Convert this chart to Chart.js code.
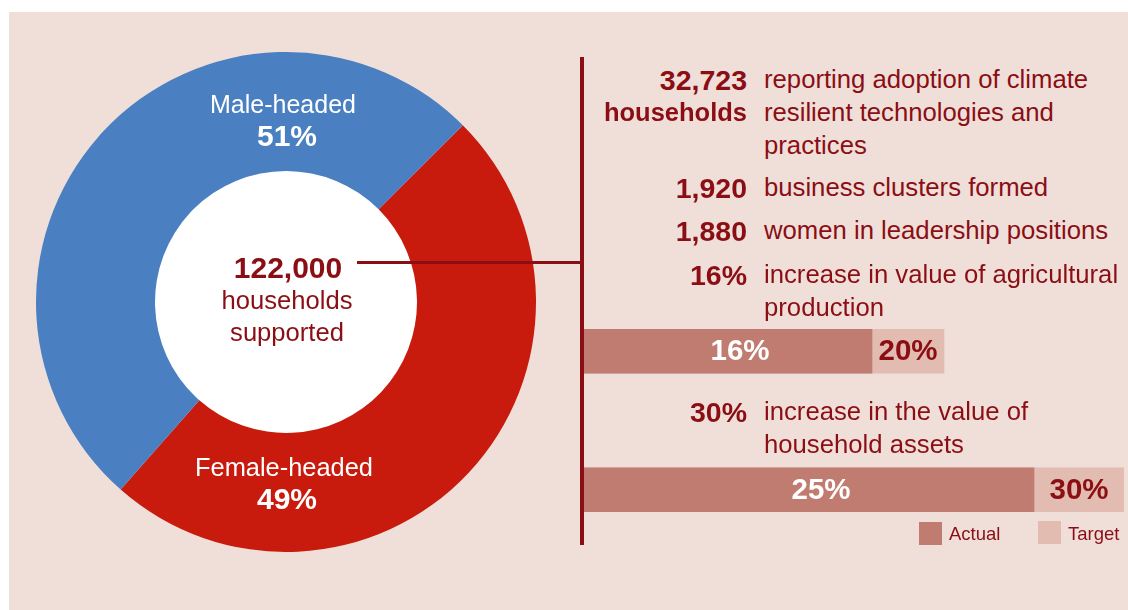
<!DOCTYPE html>
<html>
<head>
<meta charset="utf-8">
<script src="https://cdn.jsdelivr.net/npm/chart.js@4.4.1/dist/chart.umd.min.js"></script>
<style>
  html, body { margin: 0; padding: 0; background: #ffffff; }
  body { width: 1128px; height: 610px; position: relative; overflow: hidden;
         font-family: "Liberation Sans", Arial, Helvetica, sans-serif; }
  #panel { position: absolute; left: 9px; top: 12px; width: 1119px; height: 598px; background: #f0dfd9; }
  .abs { position: absolute; white-space: nowrap; line-height: 1; }
  canvas { position: absolute; }
</style>
</head>
<body>
<div id="panel"></div>
<canvas id="donut" width="500" height="500" style="left:36px;top:52px;width:500px;height:500px"></canvas>
<canvas id="bars" width="540" height="277" style="left:584px;top:282px;width:540px;height:277px"></canvas>
<div id="overlay"></div>
<script>
// ---------- data ----------
const segLabels = ['Female-headed', 'Male-headed'];
const segValues = [49, 51];
const centerValue = '122,000';
const centerLines = ['households', 'supported'];

const barCats = ['Agricultural production', 'Household assets'];
const actualValues = [16, 25];
const targetValues = [20, 30];
const seriesNames = ['Actual', 'Target'];

const statNumbers = [['32,723', 'households'], ['1,920'], ['1,880'], ['16%'], ['30%']];
const statTexts = [
  ['reporting adoption of climate', 'resilient technologies and', 'practices'],
  ['business clusters formed'],
  ['women in leadership positions'],
  ['increase in value of agricultural', 'production'],
  ['increase in the value of', 'household assets']
];

// ---------- styling ----------
const DARK = '#8a0e14';
const RED = '#c81b0e';
const BLUE = '#4a80c1';
const ACT = '#c07c70';
const TGT = '#e2bbb1';
const FONT = '"Liberation Sans", Arial, Helvetica, sans-serif';

const overlay = document.getElementById('overlay');
function addText(txt, x, baseline, size, opts) {
  opts = opts || {};
  const d = document.createElement('div');
  d.className = 'abs';
  d.textContent = txt;
  d.style.fontSize = size + 'px';
  d.style.fontWeight = opts.bold ? 'bold' : 'normal';
  d.style.color = opts.color || DARK;
  d.style.top = (baseline - 0.8465 * size) + 'px';
  if (opts.align === 'right') {
    d.style.right = (1128 - x) + 'px';
    d.style.textAlign = 'right';
  } else if (opts.align === 'center') {
    d.style.left = (x - 300) + 'px';
    d.style.width = '600px';
    d.style.textAlign = 'center';
  } else {
    d.style.left = x + 'px';
  }
  overlay.appendChild(d);
  return d;
}
function addBox(x, y, w, h, color) {
  const d = document.createElement('div');
  d.style.position = 'absolute';
  d.style.left = x + 'px'; d.style.top = y + 'px';
  d.style.width = w + 'px'; d.style.height = h + 'px';
  d.style.background = color;
  overlay.appendChild(d);
}

// ---------- doughnut ----------
new Chart(document.getElementById('donut'), {
  type: 'doughnut',
  data: {
    labels: segLabels,
    datasets: [{ data: segValues, backgroundColor: [RED, BLUE], borderWidth: 0, hoverOffset: 0 }]
  },
  options: {
    responsive: false, animation: false, cutout: '52.4%', rotation: 45,
    layout: { padding: 0 },
    plugins: { legend: { display: false }, tooltip: { enabled: false } },
    events: []
  },
  plugins: [{
    id: 'hole',
    beforeDatasetsDraw(chart) {
      const meta = chart.getDatasetMeta(0);
      const arc = meta.data[0];
      const ctx = chart.ctx;
      ctx.save();
      ctx.fillStyle = '#ffffff';
      ctx.beginPath();
      ctx.arc(arc.x, arc.y, arc.innerRadius + 0.5, 0, Math.PI * 2);
      ctx.fill();
      ctx.restore();
    }
  }]
});

// doughnut labels
addText(segLabels[1], 283, 113, 25, { color: '#ffffff', align: 'center' });
addText(segValues[1] + '%', 287, 146, 30, { color: '#ffffff', bold: true, align: 'center' });
addText(segLabels[0], 284, 477, 25.4, { color: '#ffffff', align: 'center' });
addText(segValues[0] + '%', 287, 509, 30, { color: '#ffffff', bold: true, align: 'center' });

// centre text
addText(centerValue, 288, 278, 30, { bold: true, align: 'center' });
addText(centerLines[0], 287, 310, 25.6, { align: 'center' });
addText(centerLines[1], 287, 342, 25.6, { align: 'center' });

// connector lines
addBox(357, 261, 223, 3, DARK);
addBox(580, 57, 4, 488, DARK);

// ---------- stats text ----------
const rowBaselines = [89, 197, 240, 284, 421];
const LINE = 33;
statNumbers.forEach((lines, i) => {
  lines.forEach((t, j) => {
    const isDigit = /[0-9]/.test(t);
    addText(t, 747, rowBaselines[i] + j * LINE + (isDigit ? 1 : 0), isDigit ? 28.5 : 25.5, { bold: true, align: 'right' });
  });
});
statTexts.forEach((lines, i) => {
  lines.forEach((t, j) => {
    addText(t, 764, rowBaselines[i] + j * LINE, 25.7, {});
  });
});

// ---------- bars ----------
new Chart(document.getElementById('bars'), {
  type: 'bar',
  data: {
    labels: barCats,
    datasets: [
      { label: seriesNames[0], data: actualValues, backgroundColor: ACT, grouped: false, barThickness: 44, borderWidth: 0 },
      { label: seriesNames[1], data: targetValues, backgroundColor: TGT, grouped: false, barThickness: 44, borderWidth: 0 }
    ]
  },
  options: {
    indexAxis: 'y', responsive: false, animation: false,
    layout: { padding: 0 },
    plugins: { legend: { display: false }, tooltip: { enabled: false } },
    scales: {
      x: { display: false, min: 0, max: 30 },
      y: { display: false }
    },
    events: []
  },
  plugins: [{
    id: 'barLabels',
    afterDatasetsDraw(chart) {
      const ctx = chart.ctx;
      const a = chart.getDatasetMeta(0).data;
      const t = chart.getDatasetMeta(1).data;
      ctx.save();
      ctx.font = 'bold 29.5px ' + FONT;
      ctx.textAlign = 'center';
      ctx.textBaseline = 'middle';
      a.forEach((el, i) => {
        ctx.fillStyle = '#ffffff';
        ctx.fillText(actualValues[i] + '%', (el.base + el.x) / 2 + 12, el.y + 1);
        ctx.fillStyle = DARK;
        ctx.fillText(targetValues[i] + '%', (el.x + t[i].x) / 2, el.y + 1);
      });
      ctx.restore();
    }
  }]
});

// legend
addBox(919, 522, 23, 23, ACT);
addText(seriesNames[0], 949, 541, 18.5, {});
addBox(1038, 521, 23, 23, TGT);
addText(seriesNames[1], 1068, 541, 18.5, {});
</script>
</body>
</html>
